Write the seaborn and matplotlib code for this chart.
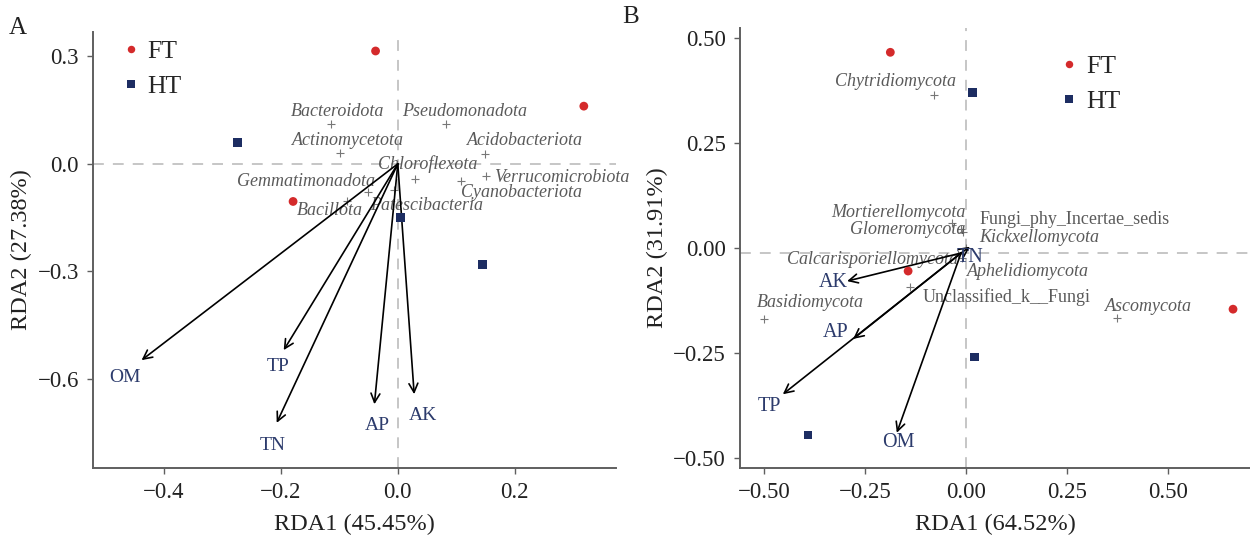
import numpy as np
import pandas as pd
import matplotlib
matplotlib.use("Agg")
import matplotlib.pyplot as plt
import seaborn as sns

# ---------------- Panel A (bacteria) ----------------
a_site_group = ["FT", "FT", "FT", "HT", "HT", "HT"]
a_site_x = [-0.038, 0.318, -0.179, -0.274, 0.005, 0.145]
a_site_y = [0.315, 0.161, -0.105, 0.060, -0.149, -0.280]

a_taxa = ["Bacteroidota", "Pseudomonadota", "Actinomycetota", "Acidobacteriota",
          "Chloroflexota", "Verrucomicrobiota", "Cyanobacteriota",
          "Gemmatimonadota", "Patescibacteria", "Bacillota"]
a_taxa_x = [-0.115, 0.082, -0.099, 0.149, 0.029, 0.150, 0.108, -0.051, -0.006, -0.087]
a_taxa_y = [0.110, 0.110, 0.029, 0.027, -0.042, -0.034, -0.048, -0.078, -0.072, -0.104]

a_env = ["OM", "TP", "TN", "AP", "AK"]
a_env_x = [-0.438, -0.195, -0.207, -0.040, 0.028]
a_env_y = [-0.548, -0.520, -0.723, -0.671, -0.643]

a_xticks = [-0.4, -0.2, 0.0, 0.2]
a_yticks = [0.3, 0.0, -0.3, -0.6]
a_xlabel = "RDA1 (45.45%)"
a_ylabel = "RDA2 (27.38%)"

# ---------------- Panel B (fungi) ----------------
b_site_group = ["FT", "FT", "FT", "HT", "HT", "HT"]
b_site_x = [-0.187, -0.143, 0.661, 0.017, 0.022, -0.391]
b_site_y = [0.467, -0.055, -0.146, 0.372, -0.260, -0.446]

b_taxa = ["Chytridiomycota", "Mortierellomycota", "Glomeromycota",
          "Fungi_phy_Incertae_sedis", "Kickxellomycota", "Calcarisporiellomycota",
          "Aphelidiomycota", "Unclassified_k__Fungi", "Basidiomycota", "Ascomycota"]
b_taxa_x = [-0.080, -0.035, -0.011, -0.007, 0.000, -0.020, -0.010, -0.139, -0.499, 0.374]
b_taxa_y = [0.364, 0.060, 0.046, 0.038, 0.000, -0.014, -0.024, -0.094, -0.169, -0.167]

b_env = ["AK", "AP", "TP", "OM", "TN"]
b_env_x = [-0.294, -0.279, -0.453, -0.171, 0.010]
b_env_y = [-0.079, -0.217, -0.349, -0.441, 0.003]

b_xticks = [-0.50, -0.25, 0.00, 0.25, 0.50]
b_yticks = [0.50, 0.25, 0.00, -0.25, -0.50]
b_xlabel = "RDA1 (64.52%)"
b_ylabel = "RDA2 (31.91%)"

# ---------------- layout / style (not data) ----------------
a_taxa_off = [(7, 13), (19, 13), (8, 13), (40, 14), (13, 15), (76, -1), (61, -11),
              (-62, 10), (32, -16), (-17, -9)]
a_env_off = [(-17, -17), (-6, -16), (-4, -23), (3, -21), (9, -21)]
a_origin = (0.0, 0.0)

b_taxa_off = [(-38, 14), (-53, 10), (-54, -1), (112, 13), (73, 10), (-85, -6),
              (66, -13), (97, -10), (46, 16), (31, 11)]
b_taxa_italic = [True, True, True, False, True, True, True, False, True, True]
b_env_off = [(-14, -1), (-18, 6), (-13, -12), (2, -10), (0, -11)]
b_origin = (-0.012, -0.012)

RED = "#d42a2b"
NAVY = "#1d2d62"
ENV_C = "#2c3b6c"
TAXA_C = "#5a5a5a"
SPINE_C = "#5f5f5f"

sns.set_style("ticks")
plt.rcParams["font.family"] = ["Liberation Serif", "DejaVu Serif"]
plt.rcParams["axes.unicode_minus"] = True

fig = plt.figure(figsize=(12.5, 5.36), dpi=100)
W, H = 1250, 536
axA = fig.add_axes([93 / W, (H - 468) / H, 523 / W, 436 / H])
axB = fig.add_axes([740 / W, (H - 468) / H, 510 / W, 440 / H])


def draw_panel(ax, site_g, site_x, site_y, taxa, tx, ty, toff, titalic,
               env, ex, ey, eoff, origin, hline, xlim, ylim, xticks, yticks,
               xfmt, yfmt, xlabel, ylabel, leg_anchor, env_fs):
    ax.axhline(hline, color="#c2c2c2", lw=1.3, ls=(0, (6, 5)), zorder=0)
    ax.axvline(0.0, color="#c2c2c2", lw=1.3, ls=(0, (6, 5)), zorder=0)

    tdf = pd.DataFrame({"x": tx, "y": ty})
    sns.scatterplot(data=tdf, x="x", y="y", marker="+", color="#777777",
                    s=28, linewidth=0.8, ax=ax, legend=False, zorder=2)
    for name, x, y, off, it in zip(taxa, tx, ty, toff, titalic):
        ax.annotate(name, (x, y), xytext=off, textcoords="offset pixels",
                    ha="center", va="center", fontsize=13, color=TAXA_C,
                    style="italic" if it else "normal", zorder=3)

    for name, x, y, off in zip(env, ex, ey, eoff):
        ax.annotate("", xy=(x, y), xytext=origin,
                    arrowprops=dict(arrowstyle="->", color="black", lw=1.2,
                                    mutation_scale=16, shrinkA=0, shrinkB=0),
                    zorder=4)
        ax.annotate(name, (x, y), xytext=off, textcoords="offset pixels",
                    ha="center", va="center", fontsize=env_fs, color=ENV_C, zorder=5)

    sdf = pd.DataFrame({"x": site_x, "y": site_y, "group": site_g})
    sns.scatterplot(data=sdf, x="x", y="y", hue="group", style="group",
                    hue_order=["FT", "HT"], style_order=["FT", "HT"],
                    palette={"FT": RED, "HT": NAVY},
                    markers={"FT": "o", "HT": "s"}, s=40, linewidth=0,
                    ax=ax, zorder=6)
    handles, labels = ax.get_legend_handles_labels()
    ax.legend(handles, labels, loc="center left", bbox_to_anchor=leg_anchor,
              frameon=False, fontsize=18.5, handletextpad=0.15, labelspacing=0.45,
              markerscale=0.85, borderaxespad=0, handlelength=1.0)

    ax.set_xlim(*xlim)
    ax.set_ylim(*ylim)
    ax.set_xticks(xticks)
    ax.set_yticks(yticks)
    ax.set_xticklabels([xfmt.format(v).replace("-", "\u2212") for v in xticks])
    ax.set_yticklabels([yfmt.format(v).replace("-", "\u2212") for v in yticks])
    ax.tick_params(axis="both", labelsize=16.5, length=4, width=1.0,
                   color=SPINE_C, labelcolor="#222222", pad=6)
    ax.set_xlabel(xlabel, fontsize=17.5, color="#222222", labelpad=8)
    ax.set_ylabel(ylabel, fontsize=17.5, color="#222222", labelpad=4)
    sns.despine(ax=ax)
    for sp in ("left", "bottom"):
        ax.spines[sp].set_color(SPINE_C)
        ax.spines[sp].set_linewidth(1.4)


draw_panel(axA, a_site_group, a_site_x, a_site_y, a_taxa, a_taxa_x, a_taxa_y,
           a_taxa_off, [True] * len(a_taxa), a_env, a_env_x, a_env_y, a_env_off,
           a_origin, 0.0, (-0.521, 0.373), (-0.849, 0.368), a_xticks, a_yticks,
           "{:.1f}", "{:.1f}", a_xlabel, a_ylabel, (0.028, 0.915), 14)

draw_panel(axB, b_site_group, b_site_x, b_site_y, b_taxa, b_taxa_x, b_taxa_y,
           b_taxa_off, b_taxa_italic, b_env, b_env_x, b_env_y, b_env_off,
           b_origin, b_origin[1], (-0.559, 0.703), (-0.525, 0.525), b_xticks,
           b_yticks, "{:.2f}", "{:.2f}", b_xlabel, b_ylabel, (0.600, 0.873), 14.5)

fig.text(18 / W, 1 - 28 / H, "A", fontsize=18, ha="center", va="center", color="#222222")
fig.text(631 / W, 1 - 17 / H, "B", fontsize=18, ha="center", va="center", color="#222222")

fig.savefig("out.png", dpi=100)
